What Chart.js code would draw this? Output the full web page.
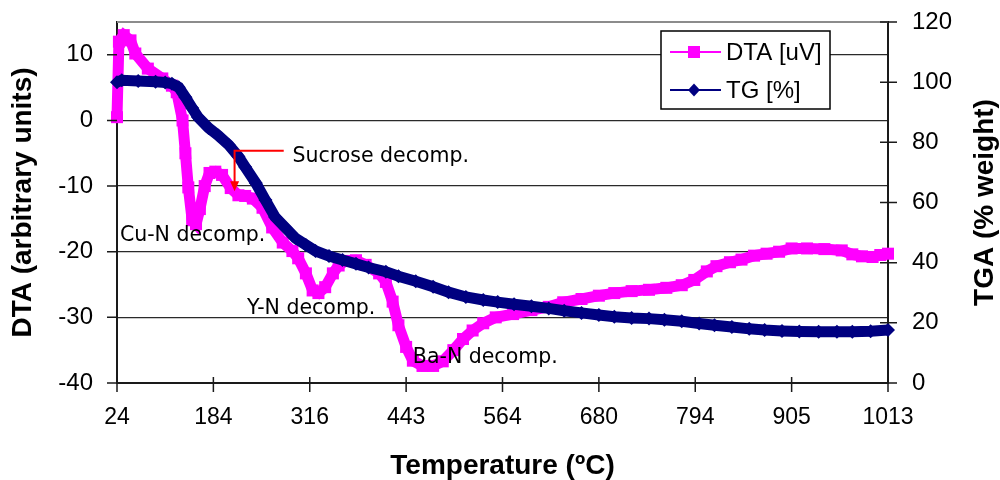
<!DOCTYPE html>
<html>
<head>
<meta charset="utf-8">
<title>DTA / TGA</title>
<script src="https://cdn.jsdelivr.net/npm/chart.js@4.4.1/dist/chart.umd.min.js"></script>
<style>
  html, body { margin: 0; padding: 0; background: #ffffff; }
  #wrap { width: 1000px; height: 480px; position: relative; }
</style>
</head>
<body>
<div id="wrap"><canvas id="chart" width="1000" height="480"></canvas></div>
<script>
// Temperature tick labels (one per major category step on the x axis)
const tempLabels = ['24', '184', '316', '443', '564', '680', '794', '905', '1013'];

// DTA signal: position along the temperature program (in tick steps) and value [uV]
const dtaPos = [0, 0.02, 0.07, 0.14, 0.19, 0.32, 0.47, 0.57, 0.62, 0.68, 0.71, 0.74, 0.78, 0.82, 0.86, 0.91, 0.96,
  1.02, 1.09, 1.18, 1.26, 1.33, 1.41, 1.51, 1.61, 1.72, 1.82, 1.88, 1.96, 2.03, 2.09, 2.16, 2.24, 2.30, 2.37,
  2.48, 2.58, 2.72, 2.79, 2.86, 2.92, 3.00, 3.07, 3.17, 3.28, 3.38, 3.49, 3.59, 3.69, 3.80, 3.93,
  4.11, 4.30, 4.48, 4.63, 4.82, 5.00, 5.16, 5.34, 5.52, 5.70, 5.86, 5.99, 6.12, 6.22, 6.36, 6.48, 6.61,
  6.74, 6.87, 7.00, 7.16, 7.34, 7.52, 7.63, 7.73, 7.84, 7.92, 8.00];
const dtaVal = [0.5, 12.0, 13.0, 12.2, 10.2, 7.9, 6.4, 5.3, 4.3, 0.0, -5.0, -10.2, -15.2, -15.8, -13.5, -10.0, -8.0,
  -7.8, -8.3, -10.3, -11.4, -11.5, -11.9, -13.3, -16.3, -18.6, -19.9, -21.0, -23.3, -25.9, -26.3, -25.4, -23.3, -22.1, -21.4,
  -21.3, -22.0, -23.3, -24.6, -27.6, -31.2, -34.5, -36.6, -37.4, -37.4, -36.7, -35.0, -33.3, -32.0, -30.9, -30.0,
  -29.5, -28.9, -28.4, -27.7, -27.2, -26.7, -26.3, -26.0, -25.8, -25.5, -25.1, -24.3, -23.0, -22.2, -21.6, -21.2, -20.6,
  -20.3, -20.0, -19.5, -19.5, -19.6, -19.8, -20.4, -20.7, -20.8, -20.5, -20.3];

// TG signal: position along the temperature program and remaining weight [%]
const tgPos = [0, 0.05, 0.22, 0.40, 0.50, 0.57, 0.64, 0.71, 0.78, 0.84, 0.95, 1.05, 1.16, 1.26, 1.33, 1.44, 1.54,
  1.64, 1.75, 1.85, 1.96, 2.06, 2.20, 2.34, 2.48, 2.61, 2.79, 2.92, 3.10, 3.28, 3.44, 3.62, 3.80, 3.95,
  4.12, 4.30, 4.48, 4.64, 4.82, 5.00, 5.16, 5.34, 5.52, 5.68, 5.86, 6.04, 6.20, 6.38, 6.56, 6.72, 6.90,
  7.08, 7.28, 7.47, 7.63, 7.82, 8.00];
const tgVal = [100.0, 100.6, 100.4, 100.1, 99.9, 99.5, 98.3, 95.0, 91.4, 88.4, 84.8, 82.3, 79.1, 75.3, 71.8, 66.5, 60.8,
  55.2, 51.5, 48.2, 45.9, 43.9, 42.2, 40.9, 39.6, 38.4, 37.0, 35.5, 33.8, 32.0, 30.2, 28.6, 27.6, 26.9,
  26.2, 25.5, 24.8, 24.0, 23.3, 22.6, 22.0, 21.6, 21.4, 21.0, 20.5, 19.8, 19.2, 18.6, 18.0, 17.6, 17.3,
  17.1, 17.0, 17.0, 17.0, 17.2, 17.6];

// Event labels placed in DTA coordinates
const eventText = ['Cu-N decomp.', 'Y-N decomp.', 'Ba-N decomp.', 'Sucrose decomp.'];
const eventPos = [0.03, 1.35, 3.07, 1.82];
const eventVal = [-17.5, -28.7, -36.1, -5.5];

// Sucrose arrow: elbow start, corner and tip (DTA coordinates)
const arrowPos = [1.73, 1.22, 1.22];
const arrowVal = [-4.6, -4.6, -10.8];

const MAGENTA = '#FF00FF';
const NAVY = '#000080';
const TICK_FONT = '"Liberation Sans", Arial, sans-serif';

function pairs(xs, ys) { return xs.map((x, i) => ({ x: x, y: ys[i] })); }

// y scales: keep the plot area edges exactly where the layout puts them
function noEdgePadding(s) { s.paddingTop = 0; s.paddingBottom = 0; }

const decor = {
  id: 'decor',
  afterDraw(chart) {
    const { ctx, chartArea: a, scales } = chart;
    const xS = scales.x, yL = scales.yL, yR = scales.yR;
    ctx.save();

    // top frame line
    ctx.strokeStyle = '#8c8c8c';
    ctx.lineWidth = 2;
    ctx.beginPath();
    ctx.moveTo(a.left, a.top);
    ctx.lineTo(a.right, a.top);
    ctx.stroke();

    // tick marks
    ctx.strokeStyle = '#1a1a1a';
    ctx.lineWidth = 1.5;
    ctx.beginPath();
    yL.ticks.forEach(t => {
      const y = yL.getPixelForValue(t.value);
      ctx.moveTo(a.left - 10, y); ctx.lineTo(a.left, y);
    });
    yR.ticks.forEach(t => {
      const y = yR.getPixelForValue(t.value);
      ctx.moveTo(a.right - 8, y); ctx.lineTo(a.right + 9, y);
    });
    xS.ticks.forEach(t => {
      const x = xS.getPixelForValue(t.value);
      ctx.moveTo(x, a.bottom - 6); ctx.lineTo(x, a.bottom + 9);
    });
    ctx.stroke();

    // sucrose arrow
    const ax = arrowPos.map(v => xS.getPixelForValue(v));
    const ay = arrowVal.map(v => yL.getPixelForValue(v));
    ctx.strokeStyle = '#FF0000';
    ctx.fillStyle = '#FF0000';
    ctx.lineWidth = 2;
    ctx.beginPath();
    ctx.moveTo(ax[0], ay[0]);
    ctx.lineTo(ax[1], ay[1]);
    ctx.lineTo(ax[2], ay[2] - 8);
    ctx.stroke();
    ctx.beginPath();
    ctx.moveTo(ax[2] - 4.5, ay[2] - 10);
    ctx.lineTo(ax[2] + 4.5, ay[2] - 10);
    ctx.lineTo(ax[2], ay[2]);
    ctx.closePath();
    ctx.fill();

    // event labels
    ctx.fillStyle = '#000000';
    ctx.font = '20.5px "DejaVu Sans", Verdana, sans-serif';
    ctx.textAlign = 'left';
    ctx.textBaseline = 'middle';
    eventText.forEach((txt, i) => {
      ctx.fillText(txt, xS.getPixelForValue(eventPos[i]), yL.getPixelForValue(eventVal[i]));
    });

    // axis titles
    ctx.font = 'bold 28px ' + TICK_FONT;
    ctx.textAlign = 'center';
    ctx.textBaseline = 'middle';
    const midY = (a.top + a.bottom) / 2;
    ctx.save();
    ctx.translate(23, midY);
    ctx.rotate(-Math.PI / 2);
    ctx.fillText('DTA (arbitrary units)', 0, 0);
    ctx.restore();
    ctx.save();
    ctx.translate(985, midY);
    ctx.rotate(-Math.PI / 2);
    ctx.fillText('TGA (% weight)', 0, 0);
    ctx.restore();
    ctx.fillText('Temperature (\u00BAC)', (a.left + a.right) / 2, 466);

    // legend
    const lx = a.right - 227, ly = a.top + 9, lw = 169, lh = 78;
    ctx.fillStyle = '#ffffff';
    ctx.fillRect(lx, ly, lw, lh);
    ctx.strokeStyle = '#000000';
    ctx.lineWidth = 1.5;
    ctx.strokeRect(lx, ly, lw, lh);
    chart.data.datasets.forEach((ds, i) => {
      const cy = ly + 21 + i * 38;
      ctx.strokeStyle = ds.borderColor;
      ctx.lineWidth = 2;
      ctx.beginPath();
      ctx.moveTo(lx + 9, cy); ctx.lineTo(lx + 60, cy);
      ctx.stroke();
      ctx.fillStyle = ds.borderColor;
      const mx = lx + 33;
      ctx.beginPath();
      if (ds.pointStyle === 'rect') {
        ctx.rect(mx - 6, cy - 6, 12, 12);
      } else {
        ctx.moveTo(mx, cy - 6.5); ctx.lineTo(mx + 6, cy);
        ctx.lineTo(mx, cy + 6.5); ctx.lineTo(mx - 6, cy);
        ctx.closePath();
      }
      ctx.fill();
      ctx.fillStyle = '#000000';
      ctx.font = '24px ' + TICK_FONT;
      ctx.textAlign = 'left';
      ctx.textBaseline = 'middle';
      ctx.fillText(ds.label, lx + 65, cy + 1);
    });
    ctx.restore();
  }
};

new Chart(document.getElementById('chart'), {
  type: 'line',
  data: {
    datasets: [
      {
        label: 'DTA [uV]',
        data: pairs(dtaPos, dtaVal),
        yAxisID: 'yL',
        borderColor: MAGENTA,
        backgroundColor: MAGENTA,
        borderWidth: 11,
        pointStyle: 'rect',
        pointRadius: 8.5,
        pointBorderWidth: 0,
        pointBackgroundColor: MAGENTA,
        tension: 0,
        clip: false,
        order: 1
      },
      {
        label: 'TG [%]',
        data: pairs(tgPos, tgVal),
        yAxisID: 'yR',
        borderColor: NAVY,
        backgroundColor: NAVY,
        borderWidth: 11,
        pointStyle: 'rectRot',
        pointRadius: 7,
        pointBorderWidth: 0,
        pointBackgroundColor: NAVY,
        tension: 0,
        clip: false,
        order: 0
      }
    ]
  },
  options: {
    responsive: false,
    animation: false,
    devicePixelRatio: 1,
    layout: { padding: { top: 22, left: 0, right: 0, bottom: 0 } },
    plugins: {
      legend: { display: false },
      tooltip: { enabled: false }
    },
    scales: {
      x: {
        type: 'linear',
        position: 'bottom',
        min: 0,
        max: 8,
        afterFit(s) { s.height = 97; s.paddingLeft = 0; s.paddingRight = 0; },
        ticks: {
          stepSize: 1,
          autoSkip: false,
          maxRotation: 0,
          padding: 21,
          color: '#000000',
          font: { family: TICK_FONT, size: 23 },
          callback: v => (Number.isInteger(v) ? tempLabels[v] : '')
        },
        grid: { drawOnChartArea: false, drawTicks: false },
        border: { display: true, color: '#1a1a1a', width: 2 }
      },
      yL: {
        type: 'linear',
        position: 'left',
        min: -40,
        max: 15,
        afterFit(s) { s.width = 117; noEdgePadding(s); },
        ticks: {
          stepSize: 10,
          includeBounds: false,
          padding: 24,
          color: '#000000',
          font: { family: TICK_FONT, size: 24 }
        },
        grid: {
          drawTicks: false,
          color: ctx => (ctx.tick && ctx.tick.value === -40 ? 'rgba(0,0,0,0)' : '#2a2a2a'),
          lineWidth: 1.3
        },
        border: { display: true, color: '#1a1a1a', width: 2 }
      },
      yR: {
        type: 'linear',
        position: 'right',
        min: 0,
        max: 120,
        afterFit(s) { s.width = 112; noEdgePadding(s); },
        ticks: {
          stepSize: 20,
          padding: 24,
          color: '#000000',
          font: { family: TICK_FONT, size: 24 }
        },
        grid: { drawOnChartArea: false, drawTicks: false },
        border: { display: true, color: '#1a1a1a', width: 2 }
      }
    }
  },
  plugins: [decor]
});
</script>
</body>
</html>
